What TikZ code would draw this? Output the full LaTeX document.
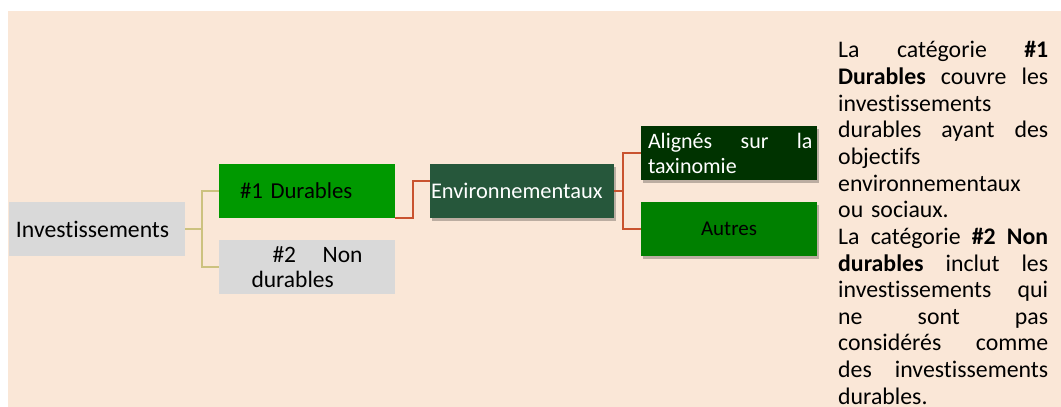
\documentclass[tikz,border=0pt]{standalone}
\usepackage{fontspec}
\setmainfont{Carlito}[Ligatures=NoCommon]
\usetikzlibrary{shadows}
\definecolor{pagebg}{HTML}{FAE7D7}
\definecolor{boxgray}{HTML}{D9D9D9}
\definecolor{durgreen}{HTML}{009900}
\definecolor{envgreen}{HTML}{26573B}
\definecolor{aligngreen}{HTML}{003300}
\definecolor{autgreen}{HTML}{008000}
\definecolor{olivelink}{HTML}{CCC27F}
\definecolor{rustlink}{HTML}{C9532F}
% a justified line: spaces stretch to fill the given width
\newcommand\spreadline[2]{\makebox[#1][s]{\spaceskip=0pt\xspaceskip=0pt\relax#2}}
\newcommand\fsz[1]{\fontsize{#1}{1.15\dimexpr#1pt\relax}\selectfont}
\begin{document}
\begin{tikzpicture}[x=1pt,y=-1pt,
  catbox/.style={rectangle, inner sep=0pt, minimum width=176pt, minimum height=54pt},
  softshadow/.style={drop shadow={shadow xshift=1.5pt, shadow yshift=-2.5pt, opacity=0.25, fill=black}},
  levelone/.style={draw=olivelink, line width=1.5pt},
  leveltwo/.style={draw=rustlink, line width=2pt},
]
% page and panel
\fill[white] (0,0) rectangle (1061,407);
\fill[pagebg] (8,11) rectangle (1061,407);
\useasboundingbox (0,0) rectangle (1061,407);

% tree boxes
\node[catbox, fill=boxgray, text width=162pt, align=left, font=\fsz{23.7}] (inv) at (97,229) {Investissements};
\node[catbox, fill=durgreen, text width=134pt, align=left, font=\fsz{22.8}] (dur) at (307,191) {\#1 Durables};
\node[catbox, fill=boxgray, text width=111pt, align=left, font={\fontsize{23.5}{25}\selectfont}] (non) at (307,267)
  {\hfill\spreadline{90pt}{\#2 Non}\\durables};
\node[catbox, minimum width=184pt, fill=envgreen, text=white, softshadow, text width=182pt, align=left,
  font=\fsz{22.4}] (env) at (522,191) {Environnementaux};
\node[catbox, fill=aligngreen, text=white, softshadow, text width=167pt, align=left,
  font={\fontsize{22}{25}\selectfont}] (ali) at (729,153)
  {\hspace*{2.5pt}\spreadline{164.5pt}{Alignés sur la}\\\hspace*{2.5pt}taxinomie};
\node[catbox, fill=autgreen, softshadow, font=\fsz{21}] (aut) at (729,229) {Autres};

% connectors
\draw[levelone] (inv.east) -- ++(17,0) |- (dur.west);
\draw[levelone] (inv.east) -- ++(17,0) |- (non.west);
\draw[leveltwo] (dur.south east) -- ++(18,0) |- ([yshift=10pt]env.west);
\draw[leveltwo] (env.east) -- ++(9,0) |- (ali.west);
\draw[leveltwo] (env.east) -- ++(9,0) |- (aut.west);

% explanatory note
\node[anchor=base west, inner sep=0pt, text width=210pt, align=left,
  font=\fontsize{23.8}{26.65}\selectfont] (note) at (838,57.8) {%
  \spreadline{210pt}{La catégorie \textbf{\#1}}\\
  \spreadline{210pt}{\textbf{Durables} couvre les}\\
  investissements\\
  \spreadline{210pt}{durables ayant des}\\
  objectifs\\
  environnementaux\\
  ou sociaux.\\
  \spreadline{210pt}{La catégorie \textbf{\#2 Non}}\\
  \spreadline{210pt}{\textbf{durables} inclut les}\\
  \spreadline{210pt}{investissements qui}\\
  \spreadline{210pt}{ne sont pas}\\
  \spreadline{210pt}{considérés comme}\\
  \spreadline{210pt}{des investissements}\\
  durables.};
\end{tikzpicture}
\end{document}
